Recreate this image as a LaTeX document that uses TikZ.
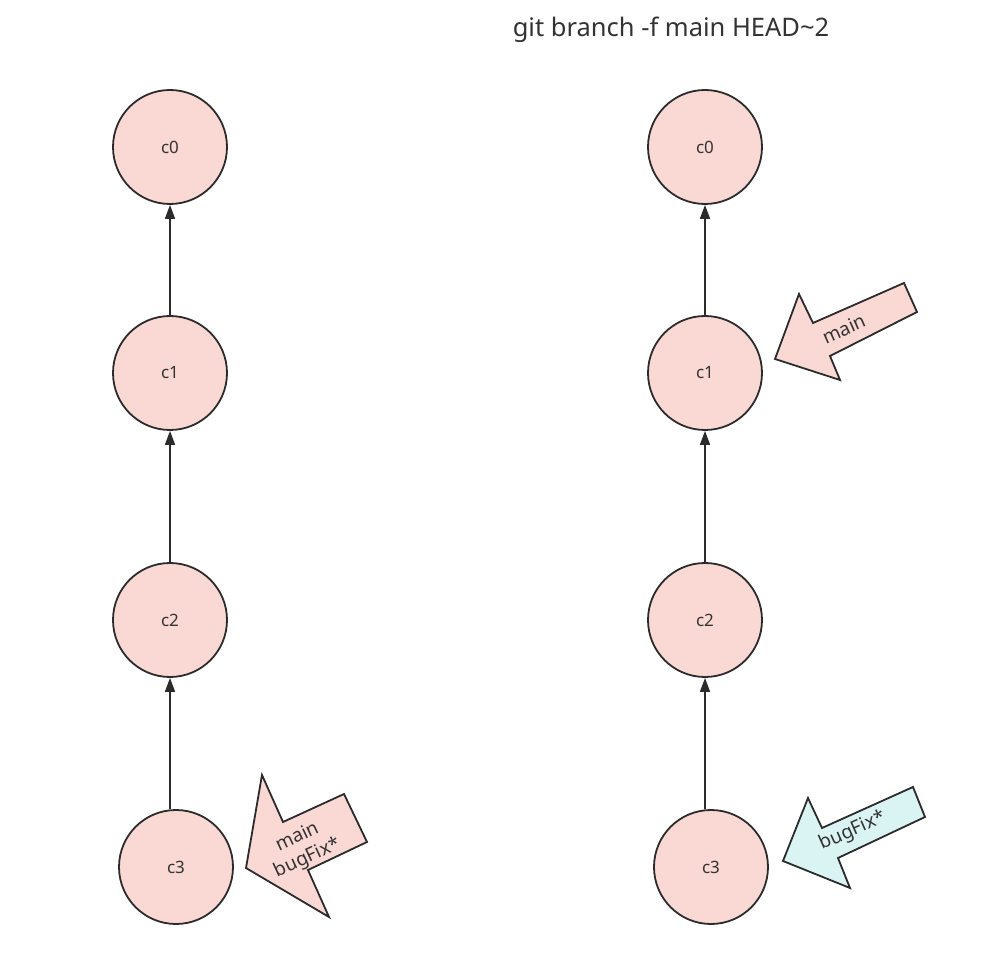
\documentclass[tikz,border=0pt]{standalone}
\usepackage{fontspec}
\setmainfont{Noto Sans}
\usetikzlibrary{arrows.meta}
\definecolor{pinkfill}{HTML}{FAD9D5}
\definecolor{cyanfill}{HTML}{DAF4F4}
\definecolor{strokec}{HTML}{2B2B2B}
\definecolor{textc}{HTML}{333333}
\tikzset{
  commit/.style={circle,draw=strokec,fill=pinkfill,line width=1.8pt,minimum size=114pt,inner sep=0pt,font=\fontsize{17}{18}\selectfont,text=textc},
  link/.style={draw=strokec,line width=1.6pt,-{Triangle[length=14pt,width=10pt]}},
  blockarrow/.style={draw=strokec,line width=1.8pt,line join=miter},
  lbl/.style={font=\fontsize{19}{23}\selectfont,text=textc,align=center,inner sep=0pt}
}
\begin{document}
\begin{tikzpicture}[x=1pt,y=-1pt]
\useasboundingbox (0,0) rectangle (1005,965);
\node[font=\fontsize{25.5}{30}\selectfont,text=textc] (title) at (671,30) {git branch -f main HEAD\textasciitilde 2};
% left column
\node[commit] (lc0) at (170,147) {c0};
\node[commit] (lc1) at (170,373) {c1};
\node[commit] (lc2) at (170,620) {c2};
\node[commit] (lc3) at (176,867) {c3};
\draw[link] (lc1.north) -- (lc0.south);
\draw[link] (lc2.north) -- (lc1.south);
\coordinate (lc3top) at (lc2.south |- lc3.north);
\draw[link] (lc3top) -- (lc2.south);
% right column
\node[commit] (rc0) at (705,147) {c0};
\node[commit] (rc1) at (705,373) {c1};
\node[commit] (rc2) at (705,620) {c2};
\node[commit] (rc3) at (711,867) {c3};
\draw[link] (rc1.north) -- (rc0.south);
\draw[link] (rc2.north) -- (rc1.south);
\coordinate (rc3top) at (rc2.south |- rc3.north);
\draw[link] (rc3top) -- (rc2.south);
% block arrows
\draw[blockarrow,fill=pinkfill] (246,868) -- (262,775) -- (283,822) -- (344,794) -- (367,842) -- (308,870) -- (329,917) -- cycle;
\node[lbl,rotate=25] (lbl1) at (303,848) {main\\bugFix*};
\draw[blockarrow,fill=pinkfill] (775,359) -- (799,294) -- (813,323) -- (904,283) -- (917,312) -- (830,356) -- (840,380) -- cycle;
\node[lbl,rotate=24] (lbl2) at (844,329) {main};
\draw[blockarrow,fill=cyanfill] (783,861) -- (808,798) -- (822,828) -- (913,787) -- (925,817) -- (838,858) -- (850,888) -- cycle;
\node[lbl,rotate=24] (lbl3) at (853,831) {bugFix*};
\end{tikzpicture}
\end{document}
